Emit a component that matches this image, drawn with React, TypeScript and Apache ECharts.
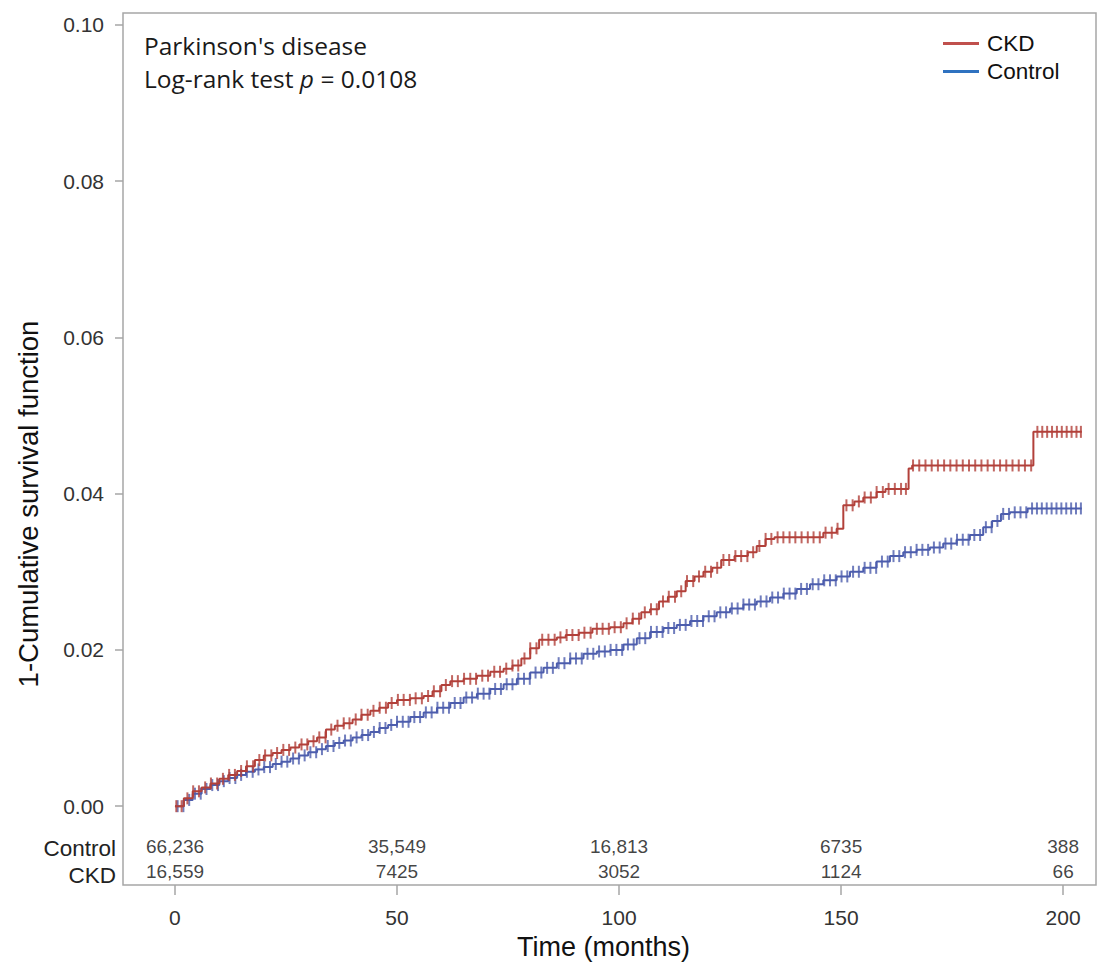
import React, { useEffect, useRef } from "react";
import * as echarts from "echarts";

// ---- Data ----
const ckdTimes = [0, 2, 4, 6, 8, 10, 12, 14, 16, 18, 20, 22, 24, 26, 28, 30, 32, 34, 36, 38, 40, 42, 44, 46, 48, 50, 53, 56, 58, 60, 62, 65, 68, 71, 74, 76, 78, 80, 82, 86, 88, 91, 94, 98, 101, 103, 105, 107, 109, 111, 113, 115, 117, 119, 121, 123, 126, 129, 131, 133, 135, 146, 149, 150.5, 153, 155, 158, 160, 165.2, 166, 193.3, 204.2];
const ckdRisk = [0, 0.0010, 0.0019, 0.0024, 0.0029, 0.0035, 0.0040, 0.0045, 0.0051, 0.0059, 0.0065, 0.0068, 0.0072, 0.0075, 0.0079, 0.0083, 0.0088, 0.0098, 0.0103, 0.0106, 0.0111, 0.0117, 0.0122, 0.0126, 0.0132, 0.0136, 0.0138, 0.0141, 0.0147, 0.0155, 0.0160, 0.0163, 0.0167, 0.0172, 0.0176, 0.0180, 0.0189, 0.0202, 0.0213, 0.0216, 0.0219, 0.0222, 0.0227, 0.0229, 0.0234, 0.0240, 0.0248, 0.0252, 0.0262, 0.0268, 0.0275, 0.0288, 0.0294, 0.0300, 0.0305, 0.0315, 0.0320, 0.0325, 0.0333, 0.0342, 0.0344, 0.0350, 0.0355, 0.0385, 0.0390, 0.0395, 0.0402, 0.0406, 0.0432, 0.0436, 0.0479, 0.0479];

const controlTimes = [0, 2, 4, 6, 8, 10, 12, 14, 16, 18, 20, 22, 24, 26, 28, 30, 32, 34, 36, 38, 40, 42, 44, 46, 48, 50, 53, 56, 59, 62, 65, 68, 71, 74, 77, 80, 83, 86, 89, 92, 95, 98, 101, 104, 107, 110, 113, 116, 119, 122, 125, 128, 131, 134, 137, 140, 143, 146, 149, 152, 155, 158, 161, 164, 167, 170, 173, 176, 179, 182, 184, 186, 188, 192, 204.2];
const controlRisk = [0, 0.0008, 0.0016, 0.0022, 0.0027, 0.0032, 0.0036, 0.0040, 0.0044, 0.0047, 0.0050, 0.0054, 0.0057, 0.0061, 0.0065, 0.0069, 0.0073, 0.0077, 0.0081, 0.0084, 0.0088, 0.0091, 0.0095, 0.0100, 0.0104, 0.0108, 0.0114, 0.0120, 0.0126, 0.0132, 0.0139, 0.0144, 0.0150, 0.0156, 0.0163, 0.0171, 0.0177, 0.0183, 0.0189, 0.0195, 0.0198, 0.0200, 0.0207, 0.0215, 0.0223, 0.0228, 0.0232, 0.0237, 0.0243, 0.0248, 0.0253, 0.0258, 0.0262, 0.0267, 0.0272, 0.0278, 0.0284, 0.0289, 0.0294, 0.0300, 0.0305, 0.0313, 0.0320, 0.0325, 0.0328, 0.0331, 0.0336, 0.0341, 0.0347, 0.0357, 0.0365, 0.0374, 0.0376, 0.0381, 0.0381];

const ckdCensorTimes = [0.3, 1.5, 2.8, 4.1, 5.4, 6.8, 8.1, 9.5, 10.8, 12.2, 13.5, 14.9, 16.2, 17.6, 19.0, 20.3, 21.7, 23.0, 24.4, 25.7, 27.1, 28.5, 29.8, 31.2, 32.5, 33.9, 35.2, 36.6, 38.0, 39.3, 40.7, 42.0, 43.4, 44.7, 46.1, 47.5, 48.8, 50.2, 51.5, 52.9, 54.2, 55.6, 57.0, 58.3, 59.7, 61.0, 62.4, 63.7, 65.1, 66.5, 67.8, 69.2, 70.5, 71.9, 73.2, 74.6, 76.0, 77.3, 78.7, 80.0, 81.4, 82.7, 84.1, 85.5, 86.8, 88.2, 89.5, 90.9, 92.2, 93.6, 95.0, 96.3, 97.7, 99.0, 100.4, 101.7, 103.1, 104.5, 105.8, 107.2, 108.5, 109.9, 111.2, 112.6, 114.0, 115.3, 116.7, 118.0, 119.4, 120.7, 122.1, 123.5, 124.8, 126.2, 127.5, 128.9, 130.2, 131.6, 133.0, 134.3, 135.7, 137.0, 138.4, 139.7, 141.1, 142.5, 143.8, 145.2, 146.5, 147.9, 149.2, 151.2, 152.6, 154.0, 155.3, 156.7, 158.0, 159.4, 160.7, 162.1, 163.5, 164.6, 166.2, 167.6, 169.0, 170.4, 171.8, 173.2, 174.6, 176.0, 177.4, 178.8, 180.2, 181.6, 183.0, 184.4, 185.8, 187.2, 188.6, 190.0, 191.4, 192.8, 194.2, 195.3, 196.4, 197.5, 198.6, 199.7, 200.8, 201.9, 203.0, 204.0];
const controlCensorTimes = [0.6, 1.9, 3.2, 4.5, 5.8, 7.1, 8.4, 9.7, 11.0, 12.3, 13.6, 14.9, 16.2, 17.5, 18.8, 20.1, 21.4, 22.7, 24.0, 25.3, 26.6, 27.9, 29.2, 30.5, 31.8, 33.1, 34.4, 35.7, 37.0, 38.3, 39.6, 40.9, 42.2, 43.5, 44.8, 46.1, 47.4, 48.7, 50.0, 51.3, 52.6, 53.9, 55.2, 56.5, 57.8, 59.1, 60.4, 61.7, 63.0, 64.3, 65.6, 66.9, 68.2, 69.5, 70.8, 72.1, 73.4, 74.7, 76.0, 77.3, 78.6, 79.9, 81.2, 82.5, 83.8, 85.1, 86.4, 87.7, 89.0, 90.3, 91.6, 92.9, 94.2, 95.5, 96.8, 98.1, 99.4, 100.7, 102.0, 103.3, 104.6, 105.9, 107.2, 108.5, 109.8, 111.1, 112.4, 113.7, 115.0, 116.3, 117.6, 118.9, 120.2, 121.5, 122.8, 124.1, 125.4, 126.7, 128.0, 129.3, 130.6, 131.9, 133.2, 134.5, 135.8, 137.1, 138.4, 139.7, 141.0, 142.3, 143.6, 144.9, 146.2, 147.5, 148.8, 150.1, 151.4, 152.7, 154.0, 155.3, 156.6, 157.9, 159.2, 160.5, 161.8, 163.1, 164.4, 165.7, 167.0, 168.3, 169.6, 170.9, 172.2, 173.5, 174.8, 176.1, 177.4, 178.7, 180.0, 181.3, 182.6, 183.9, 185.2, 186.5, 187.8, 189.1, 190.4, 191.7, 193.0, 194.1, 195.2, 196.3, 197.4, 198.5, 199.6, 200.7, 201.8, 202.9, 204.0];

const xTicks = [0, 50, 100, 150, 200];
const yTicks = [0, 0.02, 0.04, 0.06, 0.08, 0.1];
const riskTimes = [0, 50, 100, 150, 200];
const controlAtRisk = ["66,236", "35,549", "16,813", "6735", "388"];
const ckdAtRisk = ["16,559", "7425", "3052", "1124", "66"];

const SANS = "'Liberation Sans', Arial, sans-serif";

function stepValue(times: number[], vals: number[], t: number): number {
  let v = vals[0];
  for (let i = 0; i < times.length; i++) {
    if (times[i] <= t) v = vals[i];
    else break;
  }
  return v;
}

export default function App() {
  const ref = useRef<HTMLDivElement>(null);
  useEffect(() => {
    if (!ref.current) return;
    const chart = echarts.init(ref.current, null, { renderer: "svg" });
    const CKD_LINE = "#b2403a";
    const CTRL_LINE = "#4c5dad";
    const CKD_LEG = "#c0504d";
    const CTRL_LEG = "#2f72c0";
    const controlRowY = -0.0051;
    const ckdRowY = -0.0084;

    const option: any = {
      animation: false,
      backgroundColor: "#ffffff",
      grid: {
        left: 123,
        right: 10,
        top: 13,
        bottom: 78,
        show: true,
        borderColor: "#a6a6a6",
        borderWidth: 1.5,
        containLabel: false,
      },
      legend: {
        data: ["CKD", "Control"],
        orient: "vertical",
        left: 943,
        top: 32,
        padding: 0,
        itemWidth: 36,
        itemHeight: 3,
        itemGap: 5,
        icon: "rect",
        textStyle: { fontFamily: SANS, fontSize: 22.5, color: "#111", lineHeight: 22, padding: [0, 0, 0, 3] },
        selectedMode: false,
      },
      xAxis: {
        type: "value",
        min: -11.7,
        max: 207.4,
        splitLine: { show: false },
        axisLine: { show: false, onZero: false },
        axisTick: { show: true, customValues: xTicks, length: 10, lineStyle: { color: "#a6a6a6", width: 1.5 } },
        axisLabel: { customValues: xTicks, fontFamily: SANS, fontSize: 21, color: "#333", margin: 22 },
        name: "Time (months)",
        nameLocation: "middle",
        nameGap: 46,
        nameTextStyle: { fontFamily: SANS, fontSize: 27, color: "#111", padding: [0, 12, 0, 0] },
      },
      yAxis: {
        type: "value",
        min: -0.0101,
        max: 0.1015,
        splitLine: { show: false },
        axisLine: { show: false, onZero: false },
        axisTick: { show: true, customValues: yTicks, length: 8, lineStyle: { color: "#a6a6a6", width: 1.5 } },
        axisLabel: {
          customValues: yTicks,
          fontFamily: SANS,
          fontSize: 21,
          color: "#333",
          margin: 19,
          formatter: (v: number) => v.toFixed(2),
        },
      },
      graphic: [
        {
          type: "text",
          x: 144,
          y: 29,
          style: {
            text: "{a|Parkinson's disease}\n{a|Log-rank test }{i|p}{a| = 0.0108}",
            rich: {
              a: { fontFamily: "'Open Sans', sans-serif", fontSize: 24.5, lineHeight: 33, fill: "#1a1a1a" },
              i: { fontFamily: "'Open Sans', sans-serif", fontSize: 24.5, lineHeight: 33, fontStyle: "italic", fill: "#1a1a1a" },
            },
            verticalAlign: "top",
          },
        },
        {
          type: "text",
          x: 28,
          y: 504,
          rotation: Math.PI / 2,
          style: {
            text: "1-Cumulative survival function",
            fontFamily: SANS,
            fontSize: 27.5,
            fill: "#111",
            align: "center",
            verticalAlign: "middle",
          },
        },
        {
          type: "text",
          x: 116,
          y: 848,
          style: { text: "Control", fontFamily: SANS, fontSize: 22.5, fill: "#222", align: "right", verticalAlign: "middle" },
        },
        {
          type: "text",
          x: 116,
          y: 875,
          style: { text: "CKD", fontFamily: SANS, fontSize: 22.5, fill: "#222", align: "right", verticalAlign: "middle" },
        },
      ],
      series: [
        {
          name: "Control",
          type: "line",
          step: "end",
          showSymbol: false,
          data: controlTimes.map((t, i) => [t, controlRisk[i]]),
          lineStyle: { color: CTRL_LINE, width: 2 },
          itemStyle: { color: CTRL_LEG },
          z: 2,
        },
        {
          name: "Control censored",
          type: "scatter",
          symbol: "rect",
          symbolSize: [2, 12],
          data: controlCensorTimes.map((t) => [t, stepValue(controlTimes, controlRisk, t)]),
          itemStyle: { color: CTRL_LINE },
          z: 2,
        },
        {
          name: "CKD",
          type: "line",
          step: "end",
          showSymbol: false,
          data: ckdTimes.map((t, i) => [t, ckdRisk[i]]),
          lineStyle: { color: CKD_LINE, width: 2 },
          itemStyle: { color: CKD_LEG },
          z: 3,
        },
        {
          name: "CKD censored",
          type: "scatter",
          symbol: "rect",
          symbolSize: [2, 12],
          data: ckdCensorTimes.map((t) => [t, stepValue(ckdTimes, ckdRisk, t)]),
          itemStyle: { color: CKD_LINE },
          z: 3,
        },
        {
          name: "At risk",
          type: "scatter",
          symbolSize: 1,
          itemStyle: { color: "rgba(0,0,0,0)" },
          silent: true,
          data: [
            ...riskTimes.map((t, i) => [t, controlRowY, controlAtRisk[i]]),
            ...riskTimes.map((t, i) => [t, ckdRowY, ckdAtRisk[i]]),
          ],
          label: {
            show: true,
            position: "inside",
            formatter: (p: any) => p.value[2],
            fontFamily: SANS,
            fontSize: 19,
            color: "#111",
          },
        },
      ],
    };
    chart.setOption(option);
    return () => chart.dispose();
  }, []);
  return (
    <div
      ref={ref}
      style={{ position: "fixed", left: 0, top: 0, width: 1106, height: 965, background: "#fff" }}
    />
  );
}
